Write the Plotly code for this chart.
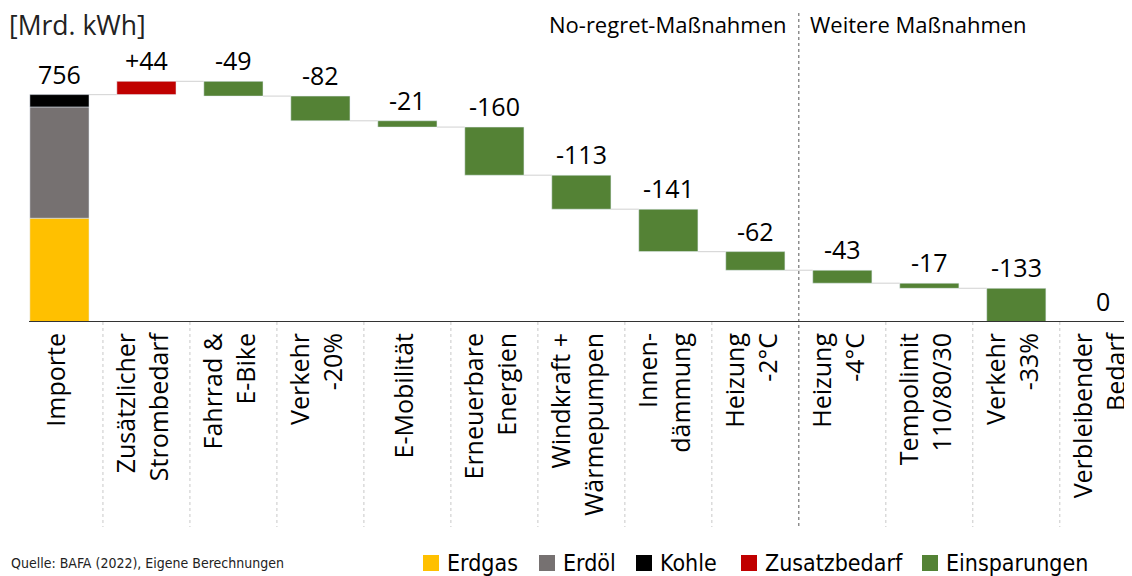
import plotly.graph_objects as go

# ---------------- data ----------------
categories = ["Importe", "Zusätzlicher<br>Strombedarf", "Fahrrad &<br>E-Bike", "Verkehr<br>-20%",
              "E-Mobilität", "Erneuerbare<br>Energien", "Windkraft +<br>Wärmepumpen",
              "Innen-<br>dämmung", "Heizung<br>-2°C", "Heizung<br>-4°C",
              "Tempolimit<br>110/80/30", "Verkehr<br>-33%", "Verbleibender<br>Bedarf"]
import_erdgas = 345
import_erdoel = 370
import_kohle = 41
changes = [44, -49, -82, -21, -160, -113, -141, -62, -43, -17, -133]
remaining = 0
series_names = ["Erdgas", "Erdöl", "Kohle", "Zusatzbedarf", "Einsparungen"]
group_left = "No-regret-Maßnahmen"
group_right = "Weitere Maßnahmen"
unit_label = "[Mrd. kWh]"
source_text = "Quelle: BAFA (2022), Eigene Berechnungen"

C_GAS, C_OIL, C_COAL = "#FFC000", "#767171", "#000000"
C_ADD, C_SAVE = "#C00000", "#548235"
series_colors = [C_GAS, C_OIL, C_COAL, C_ADD, C_SAVE]
FONT = "Open Sans"
NARROW = "DejaVu Sans Condensed, Liberation Sans Narrow, sans-serif"
BW = 0.68

n = len(categories)
xs = list(range(n))
total_import = import_erdgas + import_erdoel + import_kohle

# cumulative levels
bases, level = [], total_import
for c in changes:
    bases.append(level)
    level += c
levels_end = [total_import] + [b + c for b, c in zip(bases, changes)]

fig = go.Figure()
fig.add_bar(x=[0], y=[import_erdgas], name=series_names[0], marker_color=C_GAS, width=BW)
fig.add_bar(x=[0], y=[import_erdoel], base=[import_erdgas], name=series_names[1],
            marker_color=C_OIL, width=BW)
fig.add_bar(x=[0], y=[import_kohle], base=[import_erdgas + import_erdoel], name=series_names[2],
            marker_color=C_COAL, width=BW)

add_x = [i + 1 for i, c in enumerate(changes) if c > 0]
add_y = [c for c in changes if c > 0]
add_b = [b for b, c in zip(bases, changes) if c > 0]
sav_x = [i + 1 for i, c in enumerate(changes) if c <= 0]
sav_y = [c for c in changes if c <= 0]
sav_b = [b for b, c in zip(bases, changes) if c <= 0]
fig.add_bar(x=add_x, y=add_y, base=add_b, name=series_names[3], marker_color=C_ADD, width=BW)
fig.add_bar(x=sav_x, y=sav_y, base=sav_b, name=series_names[4], marker_color=C_SAVE, width=BW)

# connectors
cx, cy = [], []
for i, lv in enumerate(levels_end):
    cx += [i + BW / 2, i + 1 - BW / 2, None]
    cy += [lv, lv, None]
fig.add_scatter(x=cx, y=cy, mode="lines", line=dict(color="#d9d9d9", width=1.2),
                showlegend=False, hoverinfo="skip")

fig.update_traces(selector=dict(type="bar"), showlegend=False)
fig.update_layout(barmode="overlay")

# value labels
lab_top = [total_import] + [max(b, b + c) for b, c in zip(bases, changes)] + [remaining]
lab_txt = [str(total_import)] + [("+%d" % c) if c > 0 else str(c) for c in changes] + [str(remaining)]
for i, (t, y) in enumerate(zip(lab_txt, lab_top)):
    fig.add_annotation(x=i, y=max(y, 0), text=t, showarrow=False, yanchor="bottom", yshift=2,
                       font=dict(family=FONT, size=25, color="black"))

# layout geometry (page has an 8px body margin)
OFF = 8
FW, FH = 1132 - OFF, 576 - OFF
PL = 29 - OFF
PT = 20 - OFF
PH = 302
PW = FW - PL

def py(v):  # viewport pixel y -> paper y
    return (PT + PH - (v - OFF)) / PH

def px_(v):  # viewport pixel x -> paper x
    return (v - OFF - PL) / PW

# separators
for i in range(n - 1):
    dark = (i == 8)
    fig.add_shape(type="line", xref="x", yref="paper", x0=i + 0.5, x1=i + 0.5,
                  y0=(py(13) if dark else 0), y1=py(527),
                  line=dict(color="#555555" if dark else "#c8c8c8", width=1, dash="dot"))

# headings
fig.add_annotation(xref="x", yref="paper", x=8.5, y=py(24), xshift=-10, text=group_left,
                   showarrow=False, xanchor="right", yanchor="middle",
                   font=dict(family=FONT, size=22, color="black"))
fig.add_annotation(xref="x", yref="paper", x=8.5, y=py(24), xshift=9, text=group_right,
                   showarrow=False, xanchor="left", yanchor="middle",
                   font=dict(family=FONT, size=22, color="black"))
fig.add_annotation(xref="paper", yref="paper", x=px_(7), y=py(25), text=unit_label,
                   showarrow=False, xanchor="left", yanchor="middle",
                   font=dict(family=FONT, size=26.5, color="#222222"))
fig.add_annotation(xref="paper", yref="paper", x=px_(9), y=py(563), text=source_text,
                   showarrow=False, xanchor="left", yanchor="middle",
                   font=dict(family=NARROW, size=14, color="#222222"))

# legend (boxes + names)
leg_px = [423, 539, 636, 741, 922]
leg_cy = 563
BOX = 16
for name, col, lx in zip(series_names, series_colors, leg_px):
    fig.add_shape(type="rect", xref="paper", yref="paper",
                  x0=px_(lx), x1=px_(lx + BOX), y0=py(leg_cy + BOX / 2), y1=py(leg_cy - BOX / 2),
                  fillcolor=col, line=dict(width=0))
    fig.add_annotation(xref="paper", yref="paper", x=px_(lx + BOX + 6), y=py(leg_cy),
                       text=name, showarrow=False, xanchor="left", yanchor="middle",
                       font=dict(family=NARROW, size=23, color="black"))

fig.update_layout(
    width=FW, height=FH,
    margin=dict(l=PL, r=FW - PL - PW, t=PT, b=FH - PT - PH, pad=0),
    plot_bgcolor="white", paper_bgcolor="white",
    showlegend=False,
    xaxis=dict(range=[-0.35, 12.33], tickmode="array", tickvals=xs, ticktext=categories,
               tickangle=-90, showgrid=False, zeroline=False, showline=False, ticks="",
               ticklabelstandoff=5, ticklabelshift=-3, ticklabeloverflow="allow",
               automargin=False,
               tickfont=dict(family=FONT, size=25, color="black")),
    yaxis=dict(range=[0, 1004], showgrid=False, zeroline=False, showline=False,
               showticklabels=False, ticks="", automargin=False),
)
# base axis line
fig.add_shape(type="line", xref="paper", yref="y", x0=0, x1=1, y0=0, y1=0,
              line=dict(color="#333333", width=2))

fig.write_html("out.html")
